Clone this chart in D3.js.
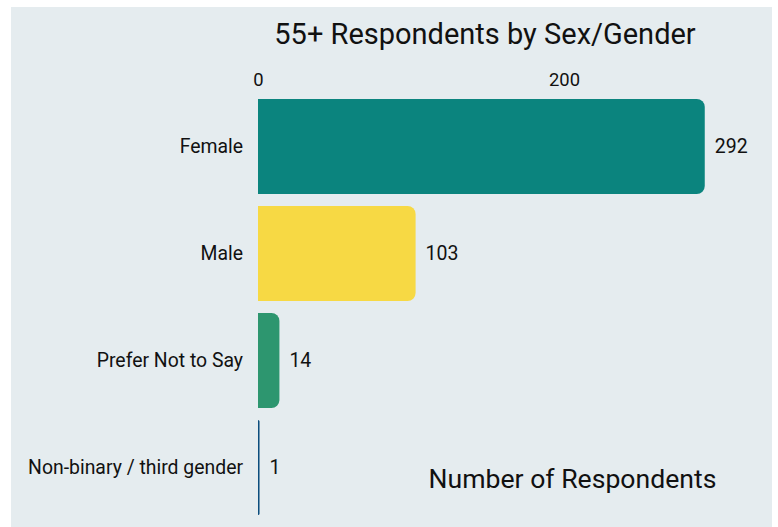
<!DOCTYPE html>
<html><head><meta charset="utf-8">
<script src="https://cdn.jsdelivr.net/npm/d3@7"></script>
<style>
html,body{margin:0;padding:0;background:#fff;}
svg{display:block;font-family:Roboto,"Noto Sans",sans-serif;}
</style></head>
<body>
<svg id="chart" width="778" height="527"></svg>
<script>
const categories = ["Female", "Male", "Prefer Not to Say", "Non-binary / third gender"];
const values = [292, 103, 14, 1];
const colors = ["#0b847e", "#f7d944", "#2d966f", "#0c4d7d"];
const tickValues = [0, 200];
const title = "55+ Respondents by Sex/Gender";
const axisTitle = "Number of Respondents";

const svg = d3.select("#chart");
svg.append("rect").attr("x", 11).attr("y", 7).attr("width", 761).attr("height", 520).attr("fill", "#e5ecef");

const x = d3.scaleLinear().domain([0, 200]).range([258, 564]);
const y = d3.scaleBand().domain(categories).range([93, 521]).paddingInner(0.112).paddingOuter(0.056);

svg.append("text").attr("x", 485).attr("y", 44).attr("text-anchor", "middle")
  .attr("font-size", 29).attr("fill", "#111").text(title);

const axis = d3.axisTop(x).tickValues(tickValues).tickSize(0).tickPadding(0);
const ag = svg.append("g").attr("transform", "translate(0,90)").call(axis);
ag.select(".domain").remove();
ag.selectAll("text").attr("font-size", 18.4).attr("fill", "#111").attr("font-family", "Roboto").attr("dy", "-0.2em");

function barPath(x0, x1, y0, h, r) {
  const w = x1 - x0;
  r = Math.min(r, w, h / 2);
  return `M${x0},${y0}H${x1 - r}A${r},${r} 0 0 1 ${x1},${y0 + r}V${y0 + h - r}A${r},${r} 0 0 1 ${x1 - r},${y0 + h}H${x0}Z`;
}

const data = categories.map((c, i) => ({c, v: values[i], col: colors[i]}));
svg.selectAll("path.bar").data(data).enter().append("path").attr("class", "bar")
  .attr("fill", d => d.col)
  .attr("d", d => barPath(x(0), x(d.v), y(d.c), y.bandwidth(), 8));

svg.selectAll("text.val").data(data).enter().append("text").attr("class", "val")
  .attr("x", d => x(d.v) + 10).attr("y", d => y(d.c) + y.bandwidth() / 2)
  .attr("dy", "0.35em").attr("font-size", 19.5).attr("fill", "#111").text(d => d.v);

svg.selectAll("text.cat").data(data).enter().append("text").attr("class", "cat")
  .attr("x", 243).attr("y", d => y(d.c) + y.bandwidth() / 2)
  .attr("dy", "0.35em").attr("text-anchor", "end").attr("font-size", 19.4).attr("fill", "#111").text(d => d.c);

svg.append("text").attr("x", 572.5).attr("y", 488).attr("text-anchor", "middle")
  .attr("font-size", 26.6).attr("fill", "#111").text(axisTitle);
</script>
</body></html>
